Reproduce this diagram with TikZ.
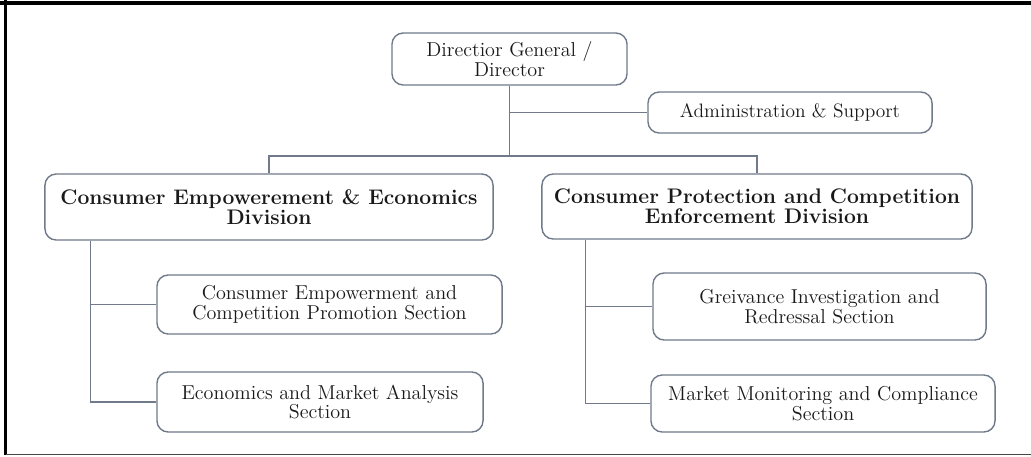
\documentclass[tikz,border=0pt]{standalone}
\usepackage{tikz}
\usetikzlibrary{positioning}
\definecolor{linegray}{RGB}{112,122,138}
\definecolor{framegray}{RGB}{70,70,70}

\begin{document}
\begin{tikzpicture}[x=0.025cm, y=-0.025cm,
      unitbox/.style={rectangle, rounded corners=8pt, draw=linegray, line width=1pt, fill=white, text=black!90, align=center, font=\fontsize{14.3}{12.2}\selectfont, inner sep=2pt},
      divbox/.style={unitbox, font=\fontsize{15}{11.8}\selectfont\bfseries},
      link/.style={draw=linegray, line width=1pt},
      ]
      \useasboundingbox (0,0) rectangle (1031,456);
      %Frame
      \draw[line width=2.4pt, black] (0,3) -- (1031,3);
      \draw[line width=1.8pt, black] (5.5,0) -- (5.5,455);
      \draw[line width=1.3pt, framegray] (5.5,454.5) -- (1031,454.5);

      %Nodes
      \node[unitbox, minimum width=5.875cm, minimum height=1.3cm]  (dir)    at (509.5,59)  {Directior General /\\ Director};
      \node[unitbox, minimum width=7.1cm, minimum height=1.025cm, font=\fontsize{13.8}{12}\selectfont]  (admin)  at (790,112.5) {Administration \& Support};
      \node[divbox, minimum width=11.2cm, minimum height=1.65cm]   (ceed)   at (269,207)   {Consumer Empowerement \& Economics\\ Division};
      \node[divbox, minimum width=10.75cm, minimum height=1.625cm] (cpced)  at (757,206.5) {Consumer Protection and Competition\\ Enforcement Division};
      \node[unitbox, minimum width=8.625cm, minimum height=1.475cm] (cecp)  at (329.5,304.5) {Consumer Empowerment and\\ Competition Promotion Section};
      \node[unitbox, minimum width=8.15cm, minimum height=1.5cm]   (ema)    at (320,402)   {Economics and Market Analysis\\ Section};
      \node[unitbox, minimum width=8.325cm, minimum height=1.675cm] (gir)   at (819.5,306.5) {Greivance Investigation and\\ Redressal Section};
      \node[unitbox, minimum width=8.6cm, minimum height=1.425cm]  (mmc)    at (823,403.5) {Market Monitoring and Compliance\\ Section};

      %Lines
      \coordinate (split) at (509.5,156);
      \draw[link] (dir.south) -- (split);
      \draw[link] (dir.south |- admin.west) -- (admin.west);
      \draw[link] (ceed.north) |- (split) -| (cpced.north);

      \coordinate (lspine) at ([xshift=1.15cm]ceed.south west);
      \draw[link] (lspine) |- (ema.west);
      \draw[link] (lspine |- cecp.west) -- (cecp.west);

      \coordinate (rspine) at ([xshift=1.1cm]cpced.south west);
      \draw[link] (rspine) |- (mmc.west);
      \draw[link] (rspine |- gir.west) -- (gir.west);
    \end{tikzpicture}
\end{document}
